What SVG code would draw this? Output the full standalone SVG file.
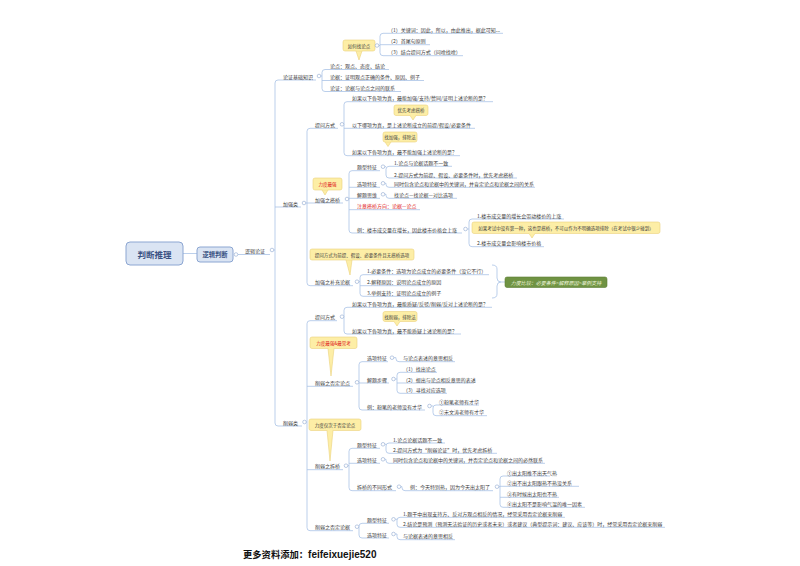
<svg xmlns="http://www.w3.org/2000/svg" width="800" height="566" viewBox="0 0 800 566">
<style>
text{font-family:"Noto Sans CJK SC","Noto Sans",sans-serif;}
.t{font-size:5px;fill:#3c3c3c;dominant-baseline:central;}
.c{font-size:4.5px;fill:#3c3c3c;dominant-baseline:central;text-anchor:middle;}
.r{fill:#e0201c;}
.ln{fill:none;stroke:#a9c3e6;stroke-width:0.8;}
.dot{fill:#fff;stroke:#8ea8d0;stroke-width:0.6;}
.co{fill:#fdeea6;stroke:#ebd27c;stroke-width:0.6;}
.box{fill:#dae4f3;stroke:#8ca6d2;stroke-width:1;}
.rt{font-weight:bold;fill:#3b5283;dominant-baseline:central;text-anchor:middle;}
</style>
<rect width="800" height="566" fill="#fff"/>
<g id="connectors">
<path class="ln" d="M183,253.5H197"/>
<path class="ln" d="M237.8,254.5H270"/>
<path class="ln" d="M273.8,250H275"/>
<path class="ln" d="M316,80H278Q275,80 275,83V423Q275,426 278,426H302M275,207H301"/>
<path class="ln" d="M320.8,76H322M389,69.5H325Q322,69.5 322,72.5V88.5Q322,91.5 325,91.5H401M322,80.5H424"/>
<path class="ln" d="M378.8,45.5H380M503,33.3H383Q380,33.3 380,36.3V52.7Q380,55.7 383,55.7H463M380,44.7H430"/>
<path class="ln" d="M305.8,203H307M338,128.3H310Q307,128.3 307,131.3V282.7Q307,285.7 310,285.7H353M307,203H343"/>
<path class="ln" d="M343.8,124.3H344M493,101.7H347Q344,101.7 344,104.7V152.7Q344,155.7 347,155.7H460M344,128.3H475"/>
<path class="ln" d="M348.8,199H349M380,170.7H352Q349,170.7 349,173.7V230Q349,233 352,233H462M349,187.3H380M349,198.3H380M349,209.7H420"/>
<path class="ln" d="M384.8,166.7H386M452,166.3H389Q386,166.3 386,169.3V175Q386,178 389,178H517"/>
<path class="ln" d="M384.8,183.3H386V184.3Q386,187.3 389,187.3H535"/>
<path class="ln" d="M384.8,194.3H386V195.3Q386,198.3 389,198.3H457"/>
<path class="ln" d="M467.3,229H469M564,219H472Q469,219 469,222V243.7Q469,246.7 472,246.7H544"/>
<path class="ln" d="M358.8,281.7H360M489,274.7H363Q360,274.7 360,277.7V293.3Q360,296.3 363,296.3H429M360,285.7H430"/>
<path class="ln" d="M492,265Q497,265 497,269V278Q497,282 501,282Q497,282 497,286V294Q497,298 492,298M501,282H505"/>
<path class="ln" d="M306.3,422H307M337,320.7H310Q307,320.7 307,323.7V527.7Q307,530.7 310,530.7H353M307,386.3H353M307,469.7H343"/>
<path class="ln" d="M343.8,316.7H344M492,307.3H347Q344,307.3 344,310.3V331Q344,334 347,334H461"/>
<path class="ln" d="M358.8,382.3H359M388,361.7H362Q359,361.7 359,364.7V407Q359,410 362,410H425M359,383H389"/>
<path class="ln" d="M393.8,357.7H396V358.7Q396,361.7 399,361.7H455"/>
<path class="ln" d="M395.3,379H397M437,372.3H400Q397,372.3 397,375.3V390.3Q397,393.3 400,393.3H447M397,383H474"/>
<path class="ln" d="M431.3,406H433M479,405H436Q433,405 433,408V412.7Q433,415.7 436,415.7H487"/>
<path class="ln" d="M347.8,465.7H349M380,448.3H352Q349,448.3 349,451.3V487.7Q349,490.7 352,490.7H396M349,463.3H380"/>
<path class="ln" d="M384.8,444.3H386M445,443H389Q386,443 386,446V450.3Q386,453.3 389,453.3H497"/>
<path class="ln" d="M384.8,459.3H386V460.3Q386,463.3 389,463.3H545"/>
<path class="ln" d="M400.8,486.7H402V487.7Q402,490.7 405,490.7H493"/>
<path class="ln" d="M498.8,486.7H500M550,476H503Q500,476 500,479V504.3Q500,507.3 503,507.3H585M500,486.3H579M500,497.3H559"/>
<path class="ln" d="M358.8,526.7H359M389,523.3H362Q359,523.3 359,526.3V535Q359,538 362,538H389"/>
<path class="ln" d="M395.3,519.3H397M565,517.3H400Q397,517.3 397,520.3V524.3Q397,527.3 400,527.3H665"/>
<path class="ln" d="M395.3,534H397V536.7Q397,539.7 400,539.7H455"/>
</g>

<g id="root"><rect class="box" x="126" y="242" width="57" height="23" rx="4"/><text class="rt" x="154.5" y="253.5" font-size="8.5">判断推理</text></g>
<g id="luojipanduan"><rect class="box" x="197" y="247" width="36" height="15" rx="3"/><text class="rt" x="215" y="254.5" font-size="6.3" font-weight="normal">逻辑判断</text><circle class="dot" cx="236" cy="254.5" r="1.8"/></g>
<g id="luojilunzheng"><text class="t" x="245" y="250">逻辑论证</text><circle class="dot" cx="272" cy="250" r="1.8"/></g>

<g id="jichu"><text class="t" x="283" y="76">论证基础知识</text><circle class="dot" cx="319" cy="76" r="1.8"/></g>
<g id="lundian"><text class="t" x="330" y="65.5">论点：观点、态度、结论</text></g>
<g id="lunju"><text class="t" x="330" y="76.5">论据：证明观点正确的条件、原因、例子</text></g>
<g id="lunzheng"><text class="t" x="330" y="87.5">论证：论据与论点之间的联系</text></g>
<g id="callout-zhaolundian"><path class="co" d="M356,51L359,60L362,51Z"/><rect class="co" x="343" y="40" width="32" height="11" rx="2"/><path d="M356.3,51H361.7" stroke="#fdeea6" stroke-width="1"/><text class="c" x="359" y="45.5">如何找论点</text><circle class="dot" cx="377" cy="45.5" r="1.8"/></g>
<g id="k1"><text class="t" x="388" y="29.3">（1）关键词：因此，所以，由此推出，据此可知...</text></g>
<g id="k2"><text class="t" x="388" y="40.7">（2）首尾句原则</text></g>
<g id="k3"><text class="t" x="388" y="51.7">（3）结合提问方式（问啥找啥）</text></g>

<g id="jiaqiang"><text class="t" x="283" y="203">加强类</text><circle class="dot" cx="304" cy="203" r="1.8"/></g>
<g id="tiwen1"><text class="t" x="315" y="124.3">提问方式</text><circle class="dot" cx="342" cy="124.3" r="1.8"/></g>
<g id="q1"><text class="t" x="352" y="97.7">如果以下各项为真，最能加强/支持/赞同/证明上述论断的是？</text></g>
<g id="callout-daqiao"><path class="co" d="M410,115.5L413,120L416,115.5Z"/><rect class="co" x="394" y="105" width="34" height="10.5" rx="2"/><path d="M410.3,115.5H415.7" stroke="#fdeea6" stroke-width="1"/><text class="c" x="411" y="110.3">优先考虑搭桥</text></g>
<g id="q2"><text class="t" x="352" y="124.3">以下哪项为真，是上述论断成立的前提/假设/必要条件</text></g>
<g id="callout-zhaojiaqiang"><path class="co" d="M385,142L388,146.5L391,142Z"/><rect class="co" x="383" y="132" width="34" height="10" rx="2"/><path d="M385.3,142H390.7" stroke="#fdeea6" stroke-width="1"/><text class="c" x="400" y="137">找加强，排除法</text></g>
<g id="q3"><text class="t" x="352" y="151.7">如果以下各项为真，最不能加强上述论断的是？</text></g>

<g id="callout-lidu1"><path class="co" d="M322,190L325,195L328,190Z"/><rect class="co" x="313" y="178" width="29" height="12" rx="2"/><path d="M322.3,190H327.7" stroke="#fdeea6" stroke-width="1"/><text class="c r" x="327.5" y="184">力度最强</text></g>
<g id="daqiao"><text class="t" x="315" y="199">加强之搭桥</text><circle class="dot" cx="347" cy="199" r="1.8"/></g>
<g id="tx1"><text class="t" x="357" y="166.7">题型特征</text><circle class="dot" cx="383" cy="166.7" r="1.8"/></g>
<g id="tx1a"><text class="t" x="394" y="162.3">1.论点与论据话题不一致</text></g>
<g id="tx1b"><text class="t" x="394" y="174">2.提问方式为前提、假设、必要条件时，优先考虑搭桥</text></g>
<g id="xx1"><text class="t" x="357" y="183.3">选项特征</text><circle class="dot" cx="383" cy="183.3" r="1.8"/></g>
<g id="xx1a"><text class="t" x="394" y="183.3">同时包含论点和论据中的关键词，并肯定论点和论据之间的关系</text></g>
<g id="jtsw"><text class="t" x="357" y="194.3">解题思维</text><circle class="dot" cx="383" cy="194.3" r="1.8"/></g>
<g id="jtswa"><text class="t" x="394" y="194.3">找论点—找论据—对比选项</text></g>
<g id="zhuyi"><text class="t r" x="357" y="205.7">注意搭桥方向：论据—论点</text></g>
<g id="li1"><text class="t" x="357" y="229">例：楼市成交量在增长，因此楼市价格会上涨</text><circle class="dot" cx="465.5" cy="229" r="1.8"/></g>
<g id="li1a"><text class="t" x="477" y="215">1.楼市成交量的增长会带动楼价的上涨</text></g>
<g id="callout-kaoshi"><path class="co" d="M529,233.5L532,238L535,233.5Z"/><rect class="co" x="472" y="222" width="188" height="11.5" rx="2"/><path d="M529.3,233.5H534.7" stroke="#fdeea6" stroke-width="1"/><text class="c" x="566" y="227.8">如果考试中没有第一种，这也是搭桥，不可以作为不明确选项排除（在考试中很少碰到）</text></g>
<g id="li1b"><text class="t" x="477" y="242.7">2.楼市成交量会影响楼市价格</text></g>

<g id="callout-wudaqiao"><path class="co" d="M346,260L350,275L352,260Z"/><rect class="co" x="310" y="249" width="104" height="11" rx="2"/><path d="M346.3,260H351.7" stroke="#fdeea6" stroke-width="1"/><text class="c" x="362" y="254.5">提问方式为前提、假设、必要条件且无搭桥选项</text></g>
<g id="buchong"><text class="t" x="315" y="281.7">加强之补充论据</text><circle class="dot" cx="357" cy="281.7" r="1.8"/></g>
<g id="bc1"><text class="t" x="367" y="270.7">1.必要条件：选项为论点成立的必要条件（没它不行）</text></g>
<g id="bc2"><text class="t" x="367" y="281.7">2.解释原因：说明论点成立的原因</text></g>
<g id="bc3"><text class="t" x="367" y="292.3">3.举例支持：证明论点成立的例子</text></g>
<g id="lidubijiao"><rect x="505" y="277" width="102" height="10.5" rx="2" fill="#6f9343" stroke="#5c7e34" stroke-width="0.6"/><text x="556" y="282.3" font-size="5" font-style="italic" fill="#eef5dc" dominant-baseline="central" text-anchor="middle">力度比较：必要条件&gt;解释原因&gt;举例支持</text></g>

<g id="xueruo"><text class="t" x="283" y="422">削弱类</text><circle class="dot" cx="304.5" cy="422" r="1.8"/></g>
<g id="tiwen2"><text class="t" x="315" y="316.7">提问方式</text><circle class="dot" cx="342" cy="316.7" r="1.8"/></g>
<g id="q4"><text class="t" x="352" y="303.3">如果以下各项为真，最能质疑/反驳/削弱/反对上述论断的是？</text></g>
<g id="callout-zhaoxueruo"><path class="co" d="M394,321.5L397,326L400,321.5Z"/><rect class="co" x="383" y="311.5" width="34" height="10" rx="2"/><path d="M394.3,321.5H399.7" stroke="#fdeea6" stroke-width="1"/><text class="c" x="400" y="316.5">找削弱，排除法</text></g>
<g id="q5"><text class="t" x="352" y="330">如果以下各项为真，最不能质疑上述论断的是？</text></g>

<g id="callout-lidu2"><path class="co" d="M328,348.5L331,376L334,348.5Z"/><rect class="co" x="310" y="337" width="47" height="11.5" rx="2"/><path d="M328.3,348.5H333.7" stroke="#fdeea6" stroke-width="1"/><text class="c r" x="333.5" y="342.8">力度最强&amp;最常考</text></g>
<g id="fdld"><text class="t" x="315" y="382.3">削弱之否定论点</text><circle class="dot" cx="357" cy="382.3" r="1.8"/></g>
<g id="xx2"><text class="t" x="367" y="357.7">选项特征</text><circle class="dot" cx="392" cy="357.7" r="1.8"/></g>
<g id="xx2a"><text class="t" x="403" y="357.7">与论点表述的意思相反</text></g>
<g id="jtbz"><text class="t" x="367" y="379">解题步骤</text><circle class="dot" cx="393.5" cy="379" r="1.8"/></g>
<g id="bz1"><text class="t" x="403" y="368.3">（1）找出论点</text></g>
<g id="bz2"><text class="t" x="403" y="379">（2）想出与论点相反意思的表述</text></g>
<g id="bz3"><text class="t" x="403" y="389.3">（3）寻找对应选项</text></g>
<g id="li2"><text class="t" x="367" y="406">例：粉笔的老师没有才华</text><circle class="dot" cx="429.5" cy="406" r="1.8"/></g>
<g id="li2a"><text class="t" x="439" y="401">①粉笔老师有才华</text></g>
<g id="li2b"><text class="t" x="439" y="411.7">②宋文涛老师有才华</text></g>

<g id="callout-lidu3"><path class="co" d="M327,430.5L330,461L333,430.5Z"/><rect class="co" x="309" y="419" width="52" height="11.5" rx="2"/><path d="M327.3,430.5H332.7" stroke="#fdeea6" stroke-width="1"/><text class="c" x="335" y="424.8">力度仅次于否定论点</text></g>
<g id="chaiqiao"><text class="t" x="315" y="465.7">削弱之拆桥</text><circle class="dot" cx="346" cy="465.7" r="1.8"/></g>
<g id="tx3"><text class="t" x="357" y="444.3">题型特征</text><circle class="dot" cx="383" cy="444.3" r="1.8"/></g>
<g id="tx3a"><text class="t" x="393" y="439">1.论点论据话题不一致</text></g>
<g id="tx3b"><text class="t" x="393" y="449.3">2.提问方式为“削弱论证”时，优先考虑拆桥</text></g>
<g id="xx3"><text class="t" x="357" y="459.3">选项特征</text><circle class="dot" cx="383" cy="459.3" r="1.8"/></g>
<g id="xx3a"><text class="t" x="393" y="459.3">同时包含论点和论据中的关键词，并否定论点和论据之间的必然联系</text></g>
<g id="xingshi"><text class="t" x="357" y="486.7">拆桥的不同形式</text><circle class="dot" cx="399" cy="486.7" r="1.8"/></g>
<g id="li3"><text class="t" x="410" y="486.7">例：今天特别热，因为今天出太阳了</text><circle class="dot" cx="497" cy="486.7" r="1.8"/></g>
<g id="li3a"><text class="t" x="507" y="472">①出太阳推不出天气热</text></g>
<g id="li3b"><text class="t" x="507" y="482.3">②出不出太阳跟热不热没关系</text></g>
<g id="li3c"><text class="t" x="507" y="493.3">③有时候出太阳也不热</text></g>
<g id="li3d"><text class="t" x="507" y="503.3">④出太阳不是影响气温的唯一因素</text></g>

<g id="fdlj"><text class="t" x="315" y="526.7">削弱之否定论据</text><circle class="dot" cx="357" cy="526.7" r="1.8"/></g>
<g id="tx4"><text class="t" x="367" y="519.3">题型特征</text><circle class="dot" cx="393.5" cy="519.3" r="1.8"/></g>
<g id="tx4a"><text class="t" x="403" y="513.3">1.题干中出现支持方、反对方观点相反的情况，经常采用否定论据来削弱</text></g>
<g id="tx4b"><text class="t" x="403" y="523.3">2.结论是预测（预测无法验证的历史或者未来）或者建议（典型提示词：建议、应该等）时，经常采用否定论据来削弱</text></g>
<g id="xx4"><text class="t" x="367" y="534">选项特征</text><circle class="dot" cx="393.5" cy="534" r="1.8"/></g>
<g id="xx4a"><text class="t" x="403" y="535.7">与论据表述的意思相反</text></g>

<text x="243" y="557.5" font-size="9.3" font-weight="bold" fill="#111">更多资料添加：<tspan font-family="Liberation Sans, sans-serif" font-size="10">feifeixuejie520</tspan></text>
</svg>
